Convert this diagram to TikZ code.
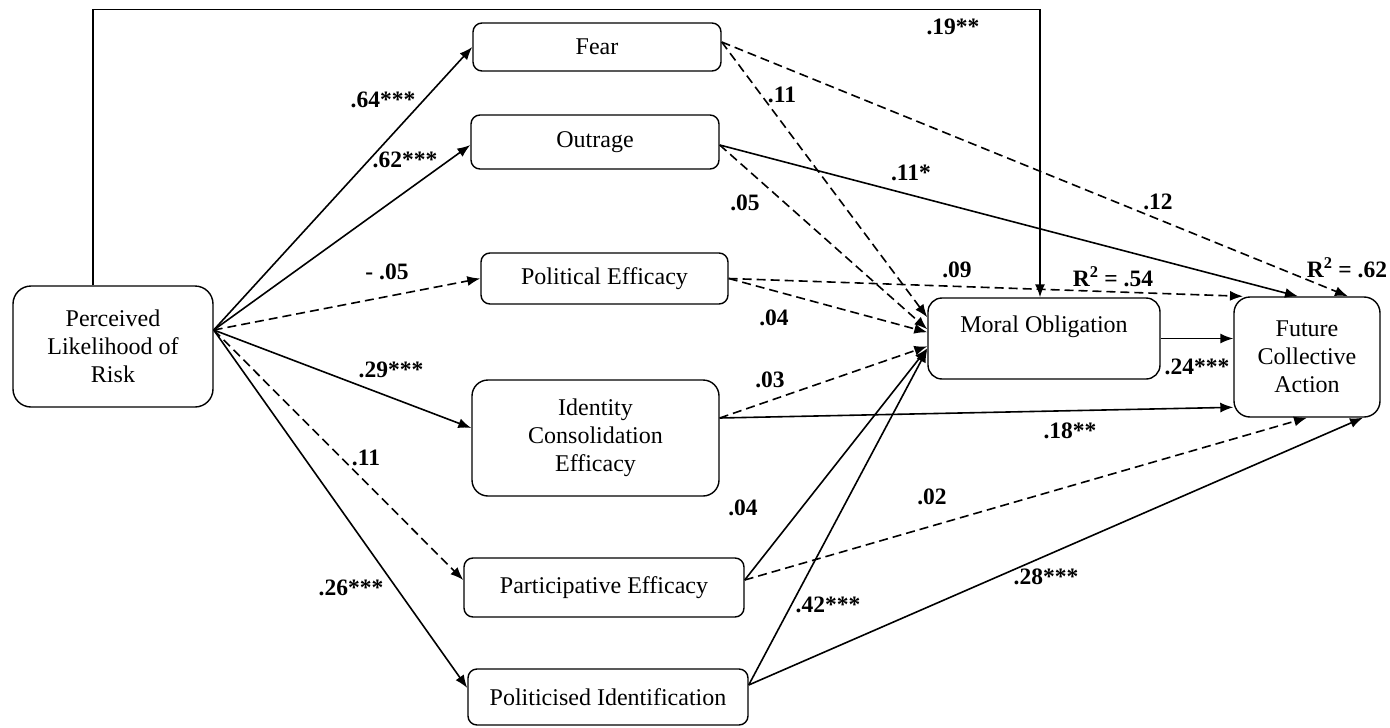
\documentclass[tikz,border=0pt]{standalone}
\usepackage{fontspec}
\setmainfont{Liberation Serif}
\usetikzlibrary{arrows.meta,calc}
\begin{document}
\begin{tikzpicture}[x=1pt,y=-1pt,
  box/.style={draw, line width=1.4pt, rounded corners=9pt, inner sep=0pt, align=center,
    font=\fontsize{24}{28}\selectfont},
  arr/.style={line width=1.6pt, -{Latex[length=13pt,width=10pt]}},
  dsh/.style={arr, dash pattern=on 9pt off 5pt},
  lbl/.style={font=\bfseries\fontsize{23.5}{27}\selectfont, inner sep=0pt}]
\useasboundingbox (0,0) rectangle (1390,728);

% boxes
\node[box, minimum width=200pt, minimum height=121pt, rounded corners=18pt] (PLR) at (113,346.5) {Perceived\\Likelihood of\\Risk};
\node[box, minimum width=248pt, minimum height=48pt] (Fear) at (597,47) {Fear};
\node[box, minimum width=248pt, minimum height=54pt] (Out) at (595,142) {Outrage};
\node[box, minimum width=247pt, minimum height=51pt] (PolE) at (604.5,278.5) {Political Efficacy};
\node[box, minimum width=247pt, minimum height=116pt, rounded corners=16pt] (ICE) at (595.5,438) {Identity\\Consolidation\\Efficacy};
\node[box, minimum width=280pt, minimum height=59pt] (PE) at (604,587.5) {Participative Efficacy};
\node[box, minimum width=280pt, minimum height=56pt] (PI) at (608,697) {Politicised Identification};
\node[box, minimum width=232pt, minimum height=81pt, rounded corners=14pt] (MO) at (1044,338.5) {Moral Obligation\\\mbox{}};
\node[box, minimum width=146pt, minimum height=120pt, rounded corners=16pt] (FCA) at (1307,357) {Future\\Collective\\Action};

% from Perceived Likelihood of Risk
\draw[arr] ([yshift=16.5pt]PLR.east) -- (Fear.west);
\draw[arr] ([yshift=16.5pt]PLR.east) -- ([yshift=-3pt]Out.west);
\draw[dsh] ([yshift=16.5pt]PLR.east) -- (PolE.west);
\draw[arr] ([yshift=16.5pt]PLR.east) -- ([yshift=10pt]ICE.west);
\draw[dsh] ([yshift=16.5pt]PLR.east) -- ([yshift=7.5pt]PE.west);
\draw[arr] ([yshift=16.5pt]PLR.east) -- ([yshift=9pt]PI.west);
\draw[arr] ([xshift=-20pt]PLR.north) -- ++(0,-276) -| ([xshift=-4pt]MO.north);

% from Fear
\draw[dsh] ([yshift=5pt]Fear.east) -- ([xshift=41pt]FCA.north);
\draw[dsh] ([yshift=5pt]Fear.east) -- ([yshift=-20pt]MO.north west);

% from Outrage
\draw[arr] ([yshift=-3pt]Out.east) -- ([xshift=-9pt]FCA.north);
\draw[dsh] ([yshift=-3pt]Out.east) -- ([yshift=-32pt]MO.north west);

% from Political Efficacy
\draw[dsh] (PolE.east) -- ([xshift=-64pt]FCA.north);
\draw[dsh] (PolE.east) -- ([yshift=-35pt]MO.north west);

% from Identity Consolidation Efficacy
\draw[dsh] ([yshift=20pt]ICE.east) -- ([yshift=-49pt]MO.north west);
\draw[arr] ([yshift=20pt]ICE.east) -- ([yshift=-111pt]FCA.north west);

% from Participative Efficacy
\draw[arr] ([yshift=7.5pt]PE.east) -- ([yshift=-51pt]MO.north west);
\draw[dsh] ([yshift=7.5pt]PE.east) -- (FCA.south);

% from Politicised Identification
\draw[arr] ([yshift=12pt]PI.east) -- ([yshift=-52pt]MO.north west);
\draw[arr] ([yshift=12pt]PI.east) -- ([xshift=56pt]FCA.south);

% Moral Obligation to Future Collective Action
\draw[arr] (MO.east) -- (MO.east -| FCA.west);

% labels
\node[lbl] (l1) at (383,100) {.64***};
\node[lbl] (l2) at (405,160) {.62***};
\node[lbl] (l3) at (387,272) {- .05};
\node[lbl] (l4) at (391,370) {.29***};
\node[lbl] (l5) at (366,458) {.11};
\node[lbl] (l6) at (351,588) {.26***};
\node[lbl] (l7) at (782,95) {.11};
\node[lbl] (l8) at (745,203) {.05};
\node[lbl] (l9) at (911,173) {.11*};
\node[lbl] (l10) at (1158,202) {.12};
\node[lbl] (l11) at (953,27) {.19**};
\node[lbl] (l12) at (957,270) {.09};
\node[lbl] (l13) at (1113,277) {R\textsuperscript{2} = .54};
\node[lbl] (l14) at (1347,268) {R\textsuperscript{2} = .62};
\node[lbl] (l15) at (774,318) {.04};
\node[lbl] (l16) at (770,380) {.03};
\node[lbl] (l17) at (1197,367) {.24***};
\node[lbl] (l18) at (1070,431) {.18**};
\node[lbl] (l19) at (743,508) {.04};
\node[lbl] (l20) at (932,497) {.02};
\node[lbl] (l21) at (828,605) {.42***};
\node[lbl] (l22) at (1046,577) {.28***};
\end{tikzpicture}
\end{document}
